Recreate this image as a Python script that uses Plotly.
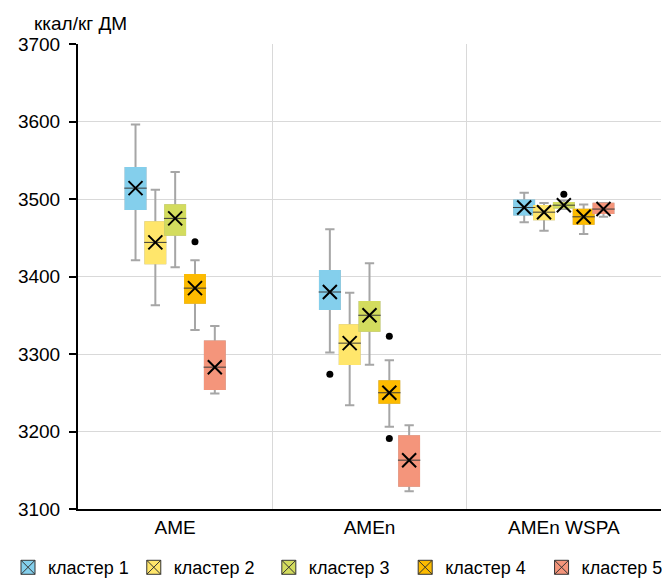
import plotly.graph_objects as go

categories = ["AME", "AMEn", "AMEn WSPA"]
clusters = ["кластер 1", "кластер 2", "кластер 3", "кластер 4", "кластер 5"]
colors = ["#84CFEC", "#FFE66B", "#D3DC5E", "#FDBB00", "#F4957B"]

lower_1 = [3421, 3302, 3470]
q1_1 = [3487, 3358, 3480]
median_1 = [3514, 3380, 3489]
q3_1 = [3540, 3407, 3498]
upper_1 = [3596, 3461, 3508]
mean_1 = [3514, 3380, 3489]
out_cat_1 = ["AMEn"]
out_val_1 = [3274]

lower_2 = [3363, 3234, 3459]
q1_2 = [3417, 3287, 3474]
median_2 = [3444, 3314, 3483]
q3_2 = [3470, 3337, 3491]
upper_2 = [3512, 3379, 3495]
mean_2 = [3444, 3314, 3483]
out_cat_2 = []
out_val_2 = []

lower_3 = [3412, 3286, 3487]
q1_3 = [3454, 3330, 3489]
median_3 = [3475, 3350, 3492]
q3_3 = [3492, 3367, 3495]
upper_3 = [3535, 3417, 3498]
mean_3 = [3475, 3350, 3492]
out_cat_3 = ["AMEn WSPA"]
out_val_3 = [3506]

lower_4 = [3331, 3206, 3455]
q1_4 = [3366, 3237, 3468]
median_4 = [3385, 3250, 3477]
q3_4 = [3402, 3265, 3486]
upper_4 = [3421, 3292, 3493]
mean_4 = [3385, 3250, 3477]
out_cat_4 = ["AME", "AMEn", "AMEn"]
out_val_4 = [3445, 3323, 3191]

lower_5 = [3249, 3123, 3477]
q1_5 = [3255, 3130, 3482]
median_5 = [3283, 3163, 3487]
q3_5 = [3316, 3194, 3494]
upper_5 = [3336, 3208, 3495]
mean_5 = [3283, 3163, 3487]
out_cat_5 = []
out_val_5 = []

series = [
    (lower_1, q1_1, median_1, q3_1, upper_1, mean_1, out_cat_1, out_val_1),
    (lower_2, q1_2, median_2, q3_2, upper_2, mean_2, out_cat_2, out_val_2),
    (lower_3, q1_3, median_3, q3_3, upper_3, mean_3, out_cat_3, out_val_3),
    (lower_4, q1_4, median_4, q3_4, upper_4, mean_4, out_cat_4, out_val_4),
    (lower_5, q1_5, median_5, q3_5, upper_5, mean_5, out_cat_5, out_val_5),
]

FONT = "Liberation Sans, Arial, Helvetica, sans-serif"
BOXW = 0.102
WHISK = "#A6A6A6"
legend_names = ["legend", "legend2", "legend3", "legend4", "legend5"]
legend_x = [0.0, 0.190, 0.394, 0.600, 0.806]

fig = go.Figure()
for i, (lo, q1, med, q3, up, mn, oc, ov) in enumerate(series):
    off = (i - 2) * BOXW
    xs = [k + off for k in range(len(categories))]
    col = colors[i]
    # whiskers
    fig.add_trace(go.Box(
        x=xs, q1=q1, median=med, q3=q3, lowerfence=lo, upperfence=up,
        width=BOXW, whiskerwidth=0.47, fillcolor=col,
        line=dict(color=WHISK, width=2), boxpoints=False,
        showlegend=False, hoverinfo="skip"))
    # filled box without outline
    fig.add_trace(go.Box(
        x=xs, q1=q1, median=med, q3=q3, lowerfence=q1, upperfence=q3,
        width=BOXW, whiskerwidth=0, fillcolor=col,
        line=dict(color=col, width=2), boxpoints=False,
        showlegend=False, hoverinfo="skip"))
    # median line
    fig.add_trace(go.Scatter(
        x=xs, y=med, mode="markers",
        marker=dict(symbol="line-ew", size=16, color="#3a3a3a",
                    line=dict(color="#3a3a3a", width=1)),
        showlegend=False, hoverinfo="skip"))
    # mean marker
    fig.add_trace(go.Scatter(
        x=xs, y=mn, mode="markers",
        marker=dict(symbol="x-thin", size=14, color="black",
                    line=dict(color="black", width=2)),
        showlegend=False, hoverinfo="skip"))
    # outliers
    if ov:
        fig.add_trace(go.Scatter(
            x=[categories.index(c) + off for c in oc], y=ov, mode="markers",
            marker=dict(symbol="circle", size=7, color="black"),
            showlegend=False, hoverinfo="skip"))
    # legend entry
    fig.add_trace(go.Scatter(
        x=[None], y=[None], mode="markers", name=clusters[i],
        legend=legend_names[i],
        marker=dict(symbol="square-x", size=14, color=col,
                    line=dict(color="#333333", width=1))))

legend_layouts = {}
for name, lx in zip(legend_names, legend_x):
    legend_layouts[name] = dict(
        orientation="h", xref="container", yref="paper",
        x=lx, xanchor="left", y=-0.126, yanchor="middle",
        font=dict(size=18), itemwidth=30, bgcolor="rgba(0,0,0,0)")

fig.update_layout(
    width=662, height=571,
    margin=dict(l=70, r=9, t=36, b=70, autoexpand=False),
    paper_bgcolor="white", plot_bgcolor="white",
    font=dict(family=FONT, size=19, color="black"),
    boxmode="overlay",
    showlegend=True,
    annotations=[dict(text="ккал/кг ДМ", xref="paper", yref="paper",
                      x=-0.079, y=1.045, xanchor="left", yanchor="middle",
                      showarrow=False, font=dict(size=19))],
    **legend_layouts,
)
fig.update_xaxes(
    range=[-0.5, 2.5], tickvals=list(range(len(categories))), ticktext=categories,
    showgrid=False, showline=True, linecolor="black", linewidth=2,
    ticks="", zeroline=False,
    minor=dict(tick0=0.5, dtick=1, showgrid=True, gridcolor="#D9D9D9", gridwidth=1, ticks=""),
)
fig.update_yaxes(
    range=[3100, 3700], dtick=100, showgrid=True, gridcolor="#D9D9D9", gridwidth=1,
    showline=True, linecolor="black", linewidth=2, ticks="outside", ticklen=7,
    tickwidth=2, tickcolor="black", zeroline=False, ticklabelstandoff=5,
)

fig.write_html("out.html")
